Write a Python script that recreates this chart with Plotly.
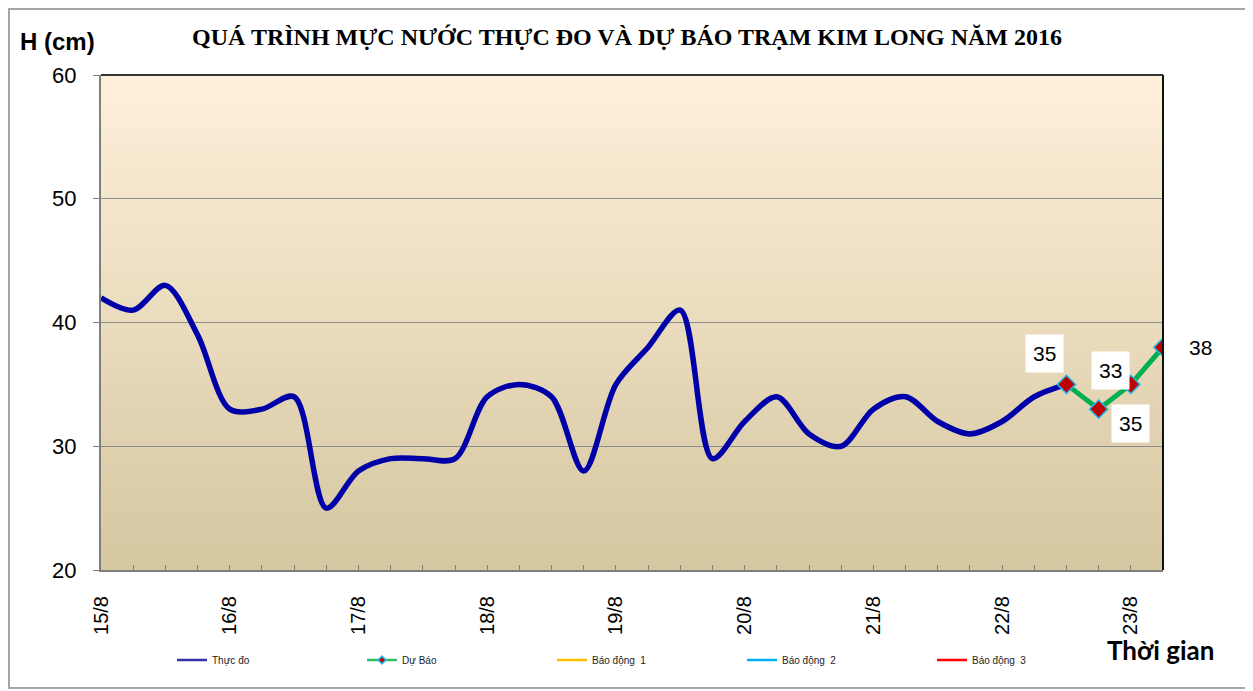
import pandas as pd
import plotly.graph_objects as go

# ---- data ----
times = [t.strftime("%Y-%m-%d %H:%M") for t in pd.date_range("2016-08-15 00:00", "2016-08-23 06:00", freq="6h")]
observed = [42, 41, 43, 39, 33, 33, 34, 25, 28, 29, 29, 29, 34, 35, 34, 28,
            35, 38, 41, 29, 32, 34, 31, 30, 33, 34, 32, 31, 32, 34, 35]
forecast = [35, 33, 35, 38]
forecast_times = times[30:34]
day_ticks = [t for t in times if t.endswith("00:00")]
day_labels = ["15/8", "16/8", "17/8", "18/8", "19/8", "20/8", "21/8", "22/8", "23/8"]
alarm_names = ["Báo động  1", "Báo động  2", "Báo động  3"]
alarm_colors = ["#FFC000", "#00B0F0", "#FF0000"]

BLUE = "#0000A8"
GREEN = "#00B050"

fig = go.Figure()
fig.add_trace(go.Scatter(x=times[:len(observed)], y=observed, mode="lines", name="Thực đo",
                         showlegend=False,
                         line=dict(color=BLUE, width=5.5, shape="spline", smoothing=0.9)))
fig.add_trace(go.Scatter(x=forecast_times, y=forecast, mode="lines+markers", name="Dự Báo",
                         showlegend=False,
                         line=dict(color=GREEN, width=5),
                         marker=dict(symbol="diamond", size=14, color="#C00000",
                                     line=dict(color="#1EB8F0", width=1.5))))
# legend entries (thin lines, small marker as in the reference legend)
fig.add_trace(go.Scatter(x=[None], y=[None], mode="lines", name="Thực đo",
                         line=dict(color="#3333AA", width=2.5)))
fig.add_trace(go.Scatter(x=[None], y=[None], mode="lines+markers", name="Dự Báo",
                         line=dict(color="#33BB66", width=2.5),
                         marker=dict(symbol="diamond", size=6, color="#C00000",
                                     line=dict(color="#1EB8F0", width=1.5))))
for n, c in zip(alarm_names, alarm_colors):
    fig.add_trace(go.Scatter(x=[None], y=[None], mode="lines", name=n, line=dict(color=c, width=2.5)))

# data labels (manually placed as in the reference)
label_offsets = [(-22, -31), (12, -39), (0, 39), (37, 0)]
for t, v, (dx, dy) in zip(forecast_times, forecast, label_offsets):
    fig.add_annotation(x=t, y=v, text=str(v), showarrow=False, xshift=dx, yshift=-dy,
                       font=dict(family="Liberation Sans, Arial", size=21, color="black"),
                       bgcolor="white", borderpad=7)

# gradient background bands
shapes = []
n_bands = 80
top = (254, 240, 218)
bot = (213, 199, 160)
for i in range(n_bands):
    f = i / (n_bands - 1)
    col = tuple(round(top[k] + (bot[k] - top[k]) * f) for k in range(3))
    shapes.append(dict(type="rect", xref="paper", yref="paper", x0=0, x1=1,
                       y0=1 - (i + 1) / n_bands, y1=1 - i / n_bands + 0.001,
                       fillcolor="rgb(%d,%d,%d)" % col, line=dict(width=0), layer="below"))
# top and right borders of plot area
shapes.append(dict(type="line", xref="paper", yref="paper", x0=0, x1=1, y0=1, y1=1,
                   line=dict(color="#333333", width=2)))
shapes.append(dict(type="line", xref="paper", yref="paper", x0=1, x1=1, y0=0, y1=1,
                   line=dict(color="#111111", width=2)))

# page body has an 8px margin: plot area spans screen x 101..1163, y 75..570
W, H = 1245, 683
# outer chart border (screen px 9..1246, 9..688)
shapes.append(dict(type="rect", xref="paper", yref="paper",
                   x0=(9 - 101) / 1062, x1=(1246 - 101) / 1062,
                   y0=(570 - 688) / 495, y1=(570 - 9) / 495,
                   line=dict(color="#A6A6A6", width=2)))

fig.update_layout(
    width=W, height=H,
    margin=dict(l=93, r=90, t=67, b=121, autoexpand=False),
    paper_bgcolor="white", plot_bgcolor="rgba(0,0,0,0)",
    shapes=shapes,
    showlegend=True,
    legend=dict(orientation="h", x=(172 - 101) / 1062, y=(570 - 660) / 495,
                xanchor="left", yanchor="middle",
                entrywidth=145, entrywidthmode="pixels", tracegroupgap=0,
                font=dict(family="Liberation Sans, Arial", size=10, color="#222222"),
                bgcolor="rgba(0,0,0,0)"),
    title=dict(text="QUÁ TRÌNH MỰC NƯỚC THỰC ĐO VÀ DỰ BÁO TRẠM KIM LONG NĂM 2016",
               x=(627 - 8) / W, xref="container", xanchor="center",
               y=1 - (37 - 8) / H, yref="container", yanchor="middle",
               font=dict(family="Liberation Serif, Times New Roman", size=24, color="black", weight="bold")),
)
fig.add_annotation(xref="paper", yref="paper", x=(57 - 101) / 1062, y=(570 - 41) / 495,
                   text="<b>H (cm)</b>", showarrow=False, xanchor="center", yanchor="middle",
                   font=dict(family="Liberation Sans, Arial", size=24, color="black"))
fig.add_annotation(xref="paper", yref="paper", x=(1160 - 101) / 1062, y=(570 - 650) / 495,
                   text="<b>Thời gian</b>", showarrow=False, xanchor="center", yanchor="middle",
                   font=dict(family="Lato, Liberation Sans", size=26, color="black"))

fig.update_xaxes(type="date", range=[times[0], times[-1]],
                 tickvals=day_ticks, ticktext=day_labels, tickangle=-90,
                 tickfont=dict(family="Liberation Sans, Arial", size=20, color="black"),
                 ticks="inside", ticklen=5, tickcolor="#7F7F7F", tickwidth=1,
                 minor=dict(dtick=6 * 3600 * 1000, tick0=times[0], ticks="inside", ticklen=5,
                            tickcolor="#7F7F7F", showgrid=False),
                 showline=True, linecolor="#7F7F7F", linewidth=2,
                 showgrid=False, zeroline=False, ticklabelstandoff=16)
fig.update_yaxes(range=[20, 60], dtick=10, tick0=20,
                 tickfont=dict(family="Liberation Sans, Arial", size=22, color="black"),
                 ticks="outside", ticklen=6, tickcolor="#7F7F7F",
                 showline=True, linecolor="#7F7F7F", linewidth=2,
                 showgrid=True, gridcolor="#8C8C8C", gridwidth=1, zeroline=False,
                 ticklabelstandoff=12)

fig.write_html("out.html")
